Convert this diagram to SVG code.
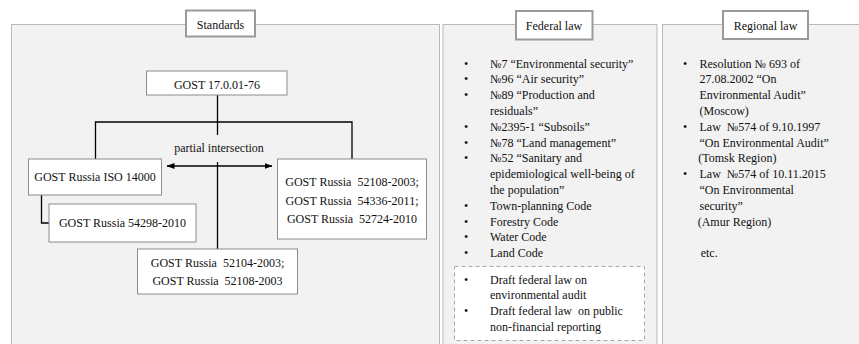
<svg xmlns="http://www.w3.org/2000/svg" width="859" height="344" viewBox="0 0 859 344">
  <style>
    text { font-family: "Liberation Serif", "Times New Roman", serif; font-size: 12px; fill: #111; white-space: pre; }
    .c { text-anchor: middle; }
    .panel { fill: #f2f2f2; stroke: #b8b8b8; stroke-width: 1; }
    .title { fill: #ffffff; stroke: #9a9a9a; stroke-width: 2; }
    .box { fill: #ffffff; stroke: #8c8c8c; stroke-width: 1; }
    .draft { fill: #ffffff; stroke: #a8a8a8; stroke-width: 1; stroke-dasharray: 4 3; }
    .wire { fill: none; stroke: #000; stroke-width: 1.3; }
  </style>
  <defs>
    <marker id="arrow" viewBox="0 0 8 6" refX="7.5" refY="3" markerWidth="8" markerHeight="6" markerUnits="userSpaceOnUse" orient="auto-start-reverse">
      <path d="M0,0 L8,3 L0,6 Z" fill="#000"/>
    </marker>
  </defs>

  <!-- column panels -->
  <g id="panel-standards">
    <rect class="panel" x="11.5" y="24.5" width="428" height="340"/>
    <rect class="title" x="186" y="10.5" width="69" height="26"/>
    <text class="c" x="220.5" y="29">Standards</text>
  </g>
  <g id="panel-federal">
    <rect class="panel" x="443" y="24.5" width="214" height="340"/>
    <rect class="title" x="516" y="11" width="76.5" height="28.5"/>
    <text class="c" x="554" y="30">Federal law</text>
  </g>
  <g id="panel-regional">
    <rect class="panel" x="662.5" y="24.5" width="210" height="340"/>
    <rect class="title" x="723" y="11" width="85" height="28"/>
    <text class="c" x="765.5" y="30">Regional law</text>
  </g>

  <!-- connectors -->
  <g id="connectors">
    <path class="wire" d="M217.5,95 V122 M95.5,159 V122 H352 V159 M217.5,122 V135"/>
    <path class="wire" d="M217.5,162 V249"/>
    <path class="wire" d="M41.5,195 V223 H49"/>
    <line class="wire" x1="167" y1="166" x2="272" y2="166" marker-start="url(#arrow)" marker-end="url(#arrow)"/>
    <text class="c" x="219" y="151.5">partial intersection</text>
  </g>

  <!-- standards nodes -->
  <g id="gost-17">
    <rect class="box" x="146.5" y="71" width="140.5" height="24"/>
    <text class="c" x="217" y="88.5">GOST 17.0.01-76</text>
  </g>
  <g id="gost-iso-14000">
    <rect class="box" x="28.5" y="159" width="133" height="36"/>
    <text class="c" x="95" y="181">GOST Russia ISO 14000</text>
  </g>
  <g id="gost-54298">
    <rect class="box" x="49" y="204" width="147" height="38"/>
    <text class="c" x="122.5" y="227">GOST Russia 54298-2010</text>
  </g>
  <g id="gost-group-right">
    <rect class="box" x="277.5" y="159" width="149" height="80"/>
    <text class="c" x="352" y="185.5">GOST Russia  52108-2003;</text>
    <text class="c" x="352" y="204.5">GOST Russia  54336-2011;</text>
    <text class="c" x="352" y="223">GOST Russia  52724-2010</text>
  </g>
  <g id="gost-group-bottom">
    <rect class="box" x="137.5" y="249" width="160" height="45"/>
    <text class="c" x="217.5" y="266.5">GOST Russia  52104-2003;</text>
    <text class="c" x="217.5" y="285">GOST Russia  52108-2003</text>
  </g>

  <!-- federal law list -->
  <g id="federal-list">
    <text class="c" x="466" y="67.5">•</text>
    <text x="490" y="67.5">№7 “Environmental security”</text>
    <text class="c" x="466" y="83.3">•</text>
    <text x="490" y="83.3">№96 “Air security”</text>
    <text class="c" x="466" y="99.1">•</text>
    <text x="490" y="99.1">№89 “Production and</text>
    <text x="490" y="114.9">residuals”</text>
    <text class="c" x="466" y="130.7">•</text>
    <text x="490" y="130.7">№2395-1 “Subsoils”</text>
    <text class="c" x="466" y="146.5">•</text>
    <text x="490" y="146.5">№78 “Land management”</text>
    <text class="c" x="466" y="162.3">•</text>
    <text x="490" y="162.3">№52 “Sanitary and</text>
    <text x="490" y="178.1">epidemiological well-being of</text>
    <text x="490" y="193.9">the population”</text>
    <text class="c" x="466" y="209.7">•</text>
    <text x="490" y="209.7">Town-planning Code</text>
    <text class="c" x="466" y="225.5">•</text>
    <text x="490" y="225.5">Forestry Code</text>
    <text class="c" x="466" y="241.3">•</text>
    <text x="490" y="241.3">Water Code</text>
    <text class="c" x="466" y="257.1">•</text>
    <text x="490" y="257.1">Land Code</text>
  </g>
  <g id="federal-drafts">
    <rect class="draft" x="454.5" y="266.5" width="190" height="74"/>
    <text class="c" x="466" y="283.5">•</text>
    <text x="490" y="283.5">Draft federal law on</text>
    <text x="490" y="299.3">environmental audit</text>
    <text class="c" x="466" y="315.1">•</text>
    <text x="490" y="315.1">Draft federal law  on public</text>
    <text x="490" y="330.9">non-financial reporting</text>
  </g>

  <!-- regional law list -->
  <g id="regional-list">
    <text class="c" x="685" y="67.5">•</text>
    <text x="699.5" y="67.5">Resolution № 693 of</text>
    <text x="699.5" y="83.3">27.08.2002 “On</text>
    <text x="699.5" y="99.1">Environmental Audit”</text>
    <text x="699.5" y="114.9">(Moscow)</text>
    <text class="c" x="685" y="130.7">•</text>
    <text x="699.5" y="130.7">Law  №574 of 9.10.1997</text>
    <text x="699.5" y="146.5">“On Environmental Audit”</text>
    <text x="698.3" y="162.3">(Tomsk Region)</text>
    <text class="c" x="685" y="178.1">•</text>
    <text x="699.5" y="178.1">Law  №574 of 10.11.2015</text>
    <text x="699.5" y="193.9">“On Environmental</text>
    <text x="699.5" y="209.7">security”</text>
    <text x="697.7" y="225.5">(Amur Region)</text>
    <text x="700.7" y="257.1">etc.</text>
  </g>
</svg>
